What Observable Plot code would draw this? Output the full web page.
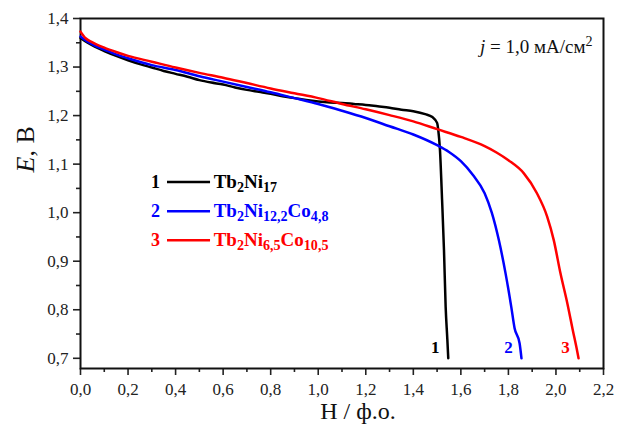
<!DOCTYPE html>
<html>
<head>
<meta charset="utf-8">
<script src="https://cdn.jsdelivr.net/npm/d3@7"></script>
<script src="https://cdn.jsdelivr.net/npm/@observablehq/plot@0.6"></script>
<style>
  html, body { margin: 0; padding: 0; background: #fff; }
  #chart { width: 617px; height: 428px; }
  #chart svg, #chart svg text { font-family: "Liberation Serif", "Times New Roman", serif !important; }
</style>
</head>
<body>
<div id="chart"></div>
<script>
// Discharge curves E(H) of the three hydride electrodes at j = 1.0 mA/cm²

// Curve 1 — Tb2Ni17
const h1 = [0.00, 0.03, 0.06, 0.10, 0.15, 0.20, 0.25, 0.30, 0.35, 0.40, 0.45, 0.50, 0.55, 0.60, 0.65, 0.70, 0.75, 0.80, 0.85, 0.90, 0.95, 1.00, 1.05, 1.10, 1.15, 1.20, 1.25, 1.30, 1.35, 1.40, 1.45, 1.48, 1.50, 1.505, 1.512, 1.521, 1.529, 1.536, 1.543, 1.547];
const e1 = [1.360, 1.350, 1.342, 1.333, 1.323, 1.314, 1.306, 1.299, 1.292, 1.286, 1.280, 1.273, 1.268, 1.264, 1.258, 1.253, 1.249, 1.245, 1.240, 1.236, 1.232, 1.229, 1.227, 1.226, 1.224, 1.222, 1.219, 1.216, 1.212, 1.209, 1.203, 1.197, 1.185, 1.170, 1.130, 1.026, 0.923, 0.806, 0.740, 0.700];

// Curve 2 — Tb2Ni12,2Co4,8
const h2 = [0.00, 0.03, 0.06, 0.10, 0.15, 0.20, 0.30, 0.40, 0.50, 0.60, 0.70, 0.80, 0.90, 1.00, 1.10, 1.20, 1.30, 1.40, 1.50, 1.55, 1.60, 1.65, 1.70, 1.73, 1.76, 1.788, 1.812, 1.826, 1.847, 1.855];
const e2 = [1.363, 1.352, 1.344, 1.336, 1.326, 1.318, 1.304, 1.294, 1.281, 1.270, 1.259, 1.248, 1.236, 1.224, 1.210, 1.195, 1.178, 1.161, 1.139, 1.125, 1.106, 1.078, 1.040, 1.000, 0.943, 0.875, 0.806, 0.762, 0.731, 0.700];

// Curve 3 — Tb2Ni6,5Co10,5
const h3 = [0.00, 0.02, 0.05, 0.10, 0.15, 0.20, 0.30, 0.40, 0.50, 0.60, 0.70, 0.80, 0.90, 1.00, 1.10, 1.20, 1.30, 1.40, 1.50, 1.60, 1.70, 1.75, 1.80, 1.865, 1.92, 1.963, 1.991, 2.019, 2.048, 2.07, 2.09, 2.095];
const e3 = [1.373, 1.360, 1.351, 1.340, 1.331, 1.323, 1.311, 1.299, 1.288, 1.278, 1.267, 1.256, 1.246, 1.236, 1.224, 1.213, 1.201, 1.188, 1.172, 1.156, 1.137, 1.124, 1.108, 1.081, 1.040, 0.992, 0.943, 0.875, 0.813, 0.760, 0.713, 0.700];

const curveNumbers = ["1", "2", "3"];
const formulas = ["Tb_{2}Ni_{17}", "Tb_{2}Ni_{12,2}Co_{4,8}", "Tb_{2}Ni_{6,5}Co_{10,5}"];
const curveColors = ["#000000", "#0000ff", "#ff0000"];

const xTicks = [0, 0.2, 0.4, 0.6, 0.8, 1.0, 1.2, 1.4, 1.6, 1.8, 2.0, 2.2];
const xMinorTicks = [0.1, 0.3, 0.5, 0.7, 0.9, 1.1, 1.3, 1.5, 1.7, 1.9, 2.1];
const yTicks = [0.7, 0.8, 0.9, 1.0, 1.1, 1.2, 1.3, 1.4];
const yMinorTicks = [0.75, 0.85, 0.95, 1.05, 1.15, 1.25, 1.35];

const xLabel = "Н / ф.о.";
const yLabel = "*E*, В";
const note = "*j* = 1,0 мА/см^{2}";

// Build tables from the arrays above
const curves = [[h1, e1], [h2, e2], [h3, e3]].map(([h, e], i) => ({
  id: curveNumbers[i],
  formula: formulas[i],
  color: curveColors[i],
  points: h.map((x, k) => ({h: x, e: e[k]}))
}));
const ends = curves.map(c => ({...c.points[c.points.length - 1], id: c.id, color: c.color}));
const legendRows = curves.map((c, i) => ({id: c.id, formula: c.formula, color: c.color, e: 1.063 - i * 0.060}));

const comma = d => d3.format(".1f")(d).replace(".", ",");
const serif = "Liberation Serif, Times New Roman, serif";

const chart = Plot.plot({
  width: 617,
  height: 428,
  marginLeft: 80,
  marginRight: 14,
  marginTop: 18,
  marginBottom: 60,
  x: {domain: [0, 2.2]},
  y: {domain: [0.679, 1.4]},
  style: {fontFamily: serif, fontSize: "17px", color: "#222", background: "#fff"},
  marks: [
    Plot.axisX({ticks: xMinorTicks, tickSize: 4, strokeWidth: 1.6, tickFormat: () => "", label: null}),
    Plot.axisX({ticks: xTicks, tickSize: 7, strokeWidth: 1.6, tickPadding: 7, tickFormat: comma, fontSize: 17, label: null}),
    Plot.axisY({ticks: yMinorTicks, tickSize: 4, strokeWidth: 1.6, tickFormat: () => "", label: null}),
    Plot.axisY({ticks: yTicks, tickSize: 7, strokeWidth: 1.6, tickPadding: 5, tickFormat: comma, fontSize: 17, label: null}),
    Plot.frame({stroke: "#111", strokeWidth: 2}),
    ...curves.map(c => Plot.line(c.points, {x: "h", y: "e", stroke: c.color, strokeWidth: 2.5, curve: "monotone-x"})),
    // curve numbers at the end of each curve
    Plot.text(ends, {x: "h", y: "e", text: "id", fill: "color", dx: -13, dy: -11, fontWeight: "bold", fontSize: 17}),
    // legend
    Plot.text(legendRows, {x: () => 0.316, y: "e", text: "id", fill: "color", fontWeight: "bold", fontSize: 18}),
    Plot.ruleY(legendRows, {y: "e", x1: () => 0.366, x2: () => 0.547, stroke: "color", strokeWidth: 2.5}),
    Plot.text(legendRows, {x: () => 0.56, y: "e", text: "formula", fill: "color", textAnchor: "start", fontWeight: "bold", fontSize: 19}),
    // current density note
    Plot.text([note], {frameAnchor: "top-right", textAnchor: "end", dx: -11, dy: 21, fontSize: 19, fill: "#111"}),
    // axis titles
    Plot.text([xLabel], {frameAnchor: "bottom", dx: 16, dy: 50, fontSize: 24, fill: "#111"}),
    Plot.text([yLabel], {frameAnchor: "left", rotate: -90, dx: -55, dy: -21, fontSize: 26, fill: "#111"})
  ]
});

document.getElementById("chart").appendChild(chart);

// Turn _{..} into subscripts, ^{..} into superscripts and *..* into italics
const svgNS = "http://www.w3.org/2000/svg";
d3.select(chart).selectAll("text").each(function () {
  const s = this.textContent;
  if (!/_\{|\^\{|\*/.test(s)) return;
  const fs = parseFloat(getComputedStyle(this).fontSize) || 17;
  const parts = s.split(/(_\{[^}]*\}|\^\{[^}]*\}|\*[^*]*\*)/).filter(p => p);
  this.textContent = "";
  let shift = 0;
  for (const p of parts) {
    let kind = "n", t = p;
    if (p.startsWith("_{")) { kind = "sub"; t = p.slice(2, -1); }
    else if (p.startsWith("^{")) { kind = "sup"; t = p.slice(2, -1); }
    else if (p.startsWith("*")) { kind = "it"; t = p.slice(1, -1); }
    const target = kind === "sub" ? 0.2 * fs : kind === "sup" ? -0.38 * fs : 0;
    const ts = document.createElementNS(svgNS, "tspan");
    ts.textContent = t;
    if (target !== shift) ts.setAttribute("dy", (target - shift).toFixed(2));
    shift = target;
    if (kind === "sub" || kind === "sup") ts.setAttribute("font-size", (0.74 * fs).toFixed(1));
    if (kind === "it") ts.setAttribute("font-style", "italic");
    this.appendChild(ts);
  }
});
</script>
</body>
</html>
